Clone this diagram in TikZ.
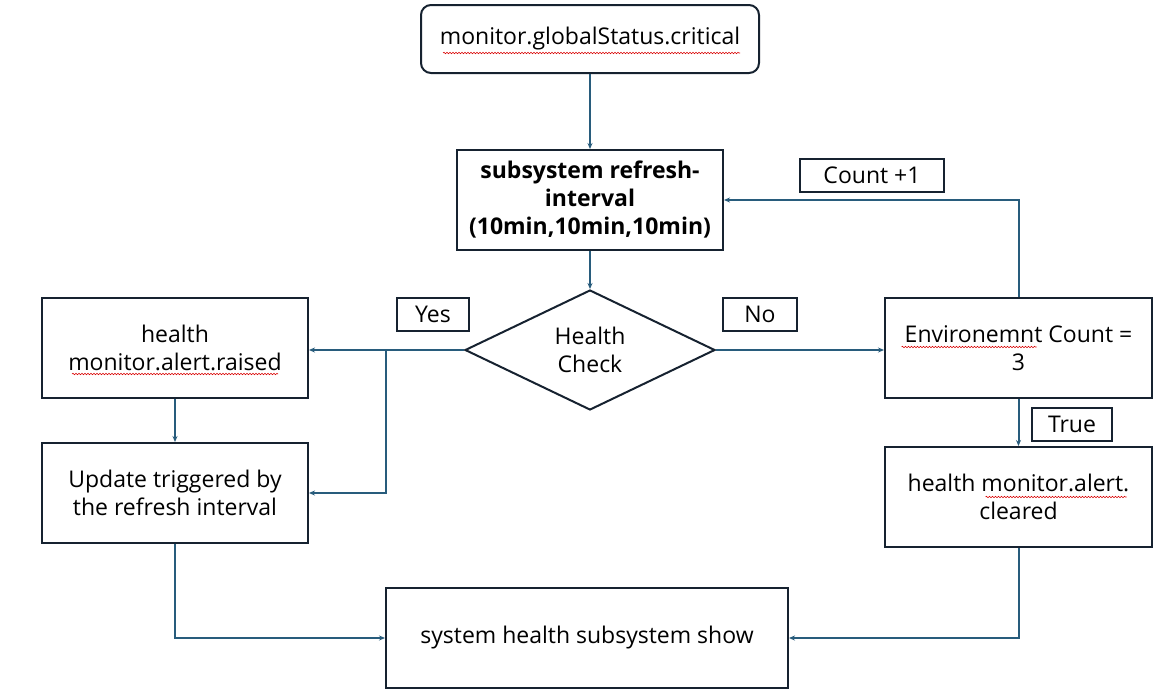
\documentclass[tikz,border=0pt]{standalone}
\usepackage{fontspec}
\setmainfont{Open Sans}
\usetikzlibrary{arrows.meta,shapes.geometric,positioning,decorations.pathmorphing}
\definecolor{boxline}{RGB}{22,34,48}
\definecolor{flowline}{RGB}{40,92,124}
\tikzset{>={Stealth[length=6pt,width=5pt]}}

\begin{document}
\begin{tikzpicture}[x=1pt,y=-1pt,
  every node/.style={font=\fontsize{23}{28}\selectfont},
  box/.style={draw=boxline,line width=2pt,align=center,minimum width=266pt,minimum height=100pt,inner sep=0pt},
  tag/.style={draw=boxline,line width=2pt,minimum height=33pt,inner sep=0pt},
  flow/.style={draw=flowline,line width=2pt},
  typo/.style={draw=red!85!black,line width=0.6pt,decorate,decoration={snake,amplitude=0.7pt,segment length=3pt}}]
\useasboundingbox (0,0) rectangle (1154,694);
\node[box,rounded corners=10pt,minimum width=338pt,minimum height=68pt] (crit) at (590,39) {monitor.globalStatus.critical};
\node[box,font=\bfseries\fontsize{23}{28}\selectfont] (refresh) at (590,200) {subsystem refresh-\\interval\\(10min,10min,10min)};
\node[draw=boxline,line width=2pt,diamond,align=center,minimum width=250pt,minimum height=120pt,inner sep=0pt] (check) at (590,350) {Health\\Check};
\node[box] (raised) at (175,348) {health\\monitor.alert.raised};
\node[box] (update) at (175,493) {Update triggered by\\the refresh interval};
\node[box,minimum width=267pt] (env) at (1018.5,348) {Environemnt Count =\\3};
\node[box,minimum width=267pt] (cleared) at (1018.5,497) {health monitor.alert.\\cleared};
\node[box,minimum width=402pt] (show) at (587,638) {system health subsystem show};
\node[tag,minimum width=72pt] (yes) at (433,314) {Yes};
\node[tag,minimum width=74pt] (no) at (760,314) {No};
\node[tag,minimum width=144pt] (count) at (872,175) {Count +1};
\node[tag,minimum width=80pt] (true) at (1072,424) {True};
\coordinate (split) at (386,350);
% spelling marks
\draw[typo] ([shift={(-147,14)}]crit.center) -- ([shift={(150,14)}]crit.center);
\draw[typo] ([shift={(-103,26)}]raised.center) -- ([shift={(103,26)}]raised.center);
\draw[typo] ([shift={(-117,-1)}]env.center) -- ([shift={(18,-1)}]env.center);
\draw[typo] ([shift={(-33,0)}]cleared.center) -- ([shift={(108,0)}]cleared.center);
% connectors
\draw[flow,->] (crit) -- (refresh);
\draw[flow,->] (refresh) -- (check);
\draw[flow,->] (check.west) -- (check.west -| raised.east);
\draw[flow,->] (split) |- (update.east);
\draw[flow,->] (check.east) -- (check.east -| env.west);
\draw[flow,->] (env.north) |- (refresh.east);
\draw[flow,->] (env) -- (cleared);
\draw[flow,->] (raised) -- (update);
\draw[flow,->] (update.south) |- (show.west);
\draw[flow,->] (cleared.south) |- (show.east);
\end{tikzpicture}
\end{document}
